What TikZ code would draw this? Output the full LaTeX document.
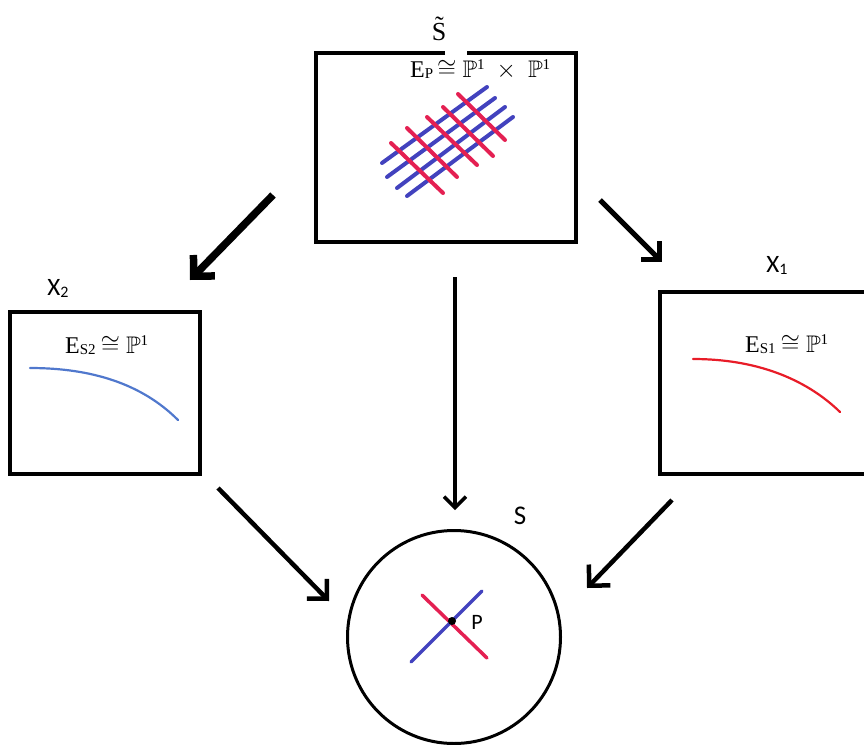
\documentclass[tikz,border=0pt]{standalone}
\usepackage{fontspec}
\usepackage{amssymb}
\setmainfont{Liberation Serif}
\newfontfamily\labelfont{Carlito}
\usetikzlibrary{arrows.meta}
\definecolor{gridred}{RGB}{228,32,82}
\definecolor{gridblue}{RGB}{66,66,190}
\definecolor{curveblue}{RGB}{80,120,205}
\definecolor{curvered}{RGB}{232,28,40}
\newcommand{\smallsub}[1]{\raisebox{-1.5pt}{\fontsize{15}{15}\selectfont #1}}
\newcommand{\smallsup}[1]{\raisebox{8pt}{\fontsize{15}{15}\selectfont #1}}
\begin{document}
\begin{tikzpicture}[x=1pt,y=-1pt,
  boxshape/.style={rectangle, inner sep=0pt, outer sep=0pt},
  frame/.style={boxshape, draw=black, line width=3.5pt},
  lbl/.style={font=\labelfont\fontsize{25}{30}\selectfont, inner sep=0pt},
  eq/.style={font=\fontsize{24}{28}\selectfont, inner sep=0pt, anchor=base west},
  gridline/.style={line width=4pt, line cap=round},
  mapto/.style={draw=black, line cap=butt}
]
\useasboundingbox (0,0) rectangle (864,744);
\clip (0,0) rectangle (864,744);

% ---------- top box S~ ----------
\node[boxshape, minimum width=260pt, minimum height=189pt] (top) at (446,147.5) {};
\coordinate (gapL) at (445,53);
\coordinate (gapR) at (467,53);
\draw[line width=4pt, line join=miter]
  (gapL |- top.north) -- (top.north west) -- (top.south west)
  -- (top.south east) -- (top.north east) -- (gapR |- top.north);
\node[font=\fontsize{26}{30}\selectfont, inner sep=0pt] (stilde) at (439,29) {\~{S}};
\node[eq] (ep) at (410,77) {E\smallsub{P}\hspace{4pt}$\cong$\hspace{6pt}$\mathbb{P}$\smallsup{1}\hspace{12pt}$\times$\hspace{12pt}$\mathbb{P}$\smallsup{1}};

% grid
\begin{scope}[gridline, draw=gridblue]
  \draw (382,163) -- (487,87);
  \draw (387,177) -- (495,98);
  \draw (397,188) -- (505,107);
  \draw (407,196) -- (513,117);
\end{scope}
\begin{scope}[gridline, draw=gridred]
  \draw (391,143) -- (443,193);
  \draw (407,128) -- (457,177);
  \draw (427,117) -- (477,165);
  \draw (443,107) -- (493,156);
  \draw (458,94) -- (505,140);
\end{scope}

% ---------- X2 box ----------
\node[frame, minimum width=190pt, minimum height=162pt] (xtwo) at (105,393) {};
\node[lbl] (xtwolbl) at (58,288) {X\raisebox{-2pt}{\fontsize{16}{16}\selectfont 2}};
\node[eq] (es2) at (65,353) {E\smallsub{S2}\hspace{5pt}$\cong$\hspace{6pt}$\mathbb{P}$\smallsup{1}};
\draw[curveblue, line width=2.2pt, line cap=round]
  (30,368) .. controls (92,368) and (142,384) .. (178,420);

% ---------- X1 box ----------
\node[frame, minimum width=210pt, minimum height=182pt] (xone) at (765,383) {};
\node[lbl] (xonelbl) at (777,265) {X\raisebox{-2pt}{\fontsize{16}{16}\selectfont 1}};
\node[eq] (es1) at (745,352) {E\smallsub{S1}\hspace{5pt}$\cong$\hspace{6pt}$\mathbb{P}$\smallsup{1}};
\draw[curvered, line width=2.2pt, line cap=round]
  (693,359) .. controls (755,359) and (805,378) .. (840,412);

% ---------- S circle ----------
\node[circle, draw=black, line width=3pt, minimum size=213pt, inner sep=0pt, outer sep=0pt] (S) at (454,637) {};
\node[lbl, font=\labelfont\fontsize{27}{32}\selectfont] (slbl) at (520,516) {S};
\draw[gridred, line width=3.5pt, line cap=round] (422,595) -- (487,658);
\draw[gridblue, line width=3.5pt, line cap=round] (411,662) -- (482,591);
\node[circle, fill=black, minimum size=8pt, inner sep=0pt] (p) at (452,621) {};
\node[lbl, font=\labelfont\fontsize{22}{26}\selectfont] (plbl) at (477,622) {P};

% ---------- arrows ----------
\coordinate (a1s) at (273,195); \coordinate (a1e) at (190,280);
\coordinate (a2s) at (600,200); \coordinate (a2e) at (662,262);
\coordinate (a3s) at (455,277); \coordinate (a3e) at (455,510);
\coordinate (a4s) at (218,488); \coordinate (a4e) at (329,601);
\coordinate (a5s) at (672,500); \coordinate (a5e) at (587,588);

\draw[mapto, line width=7.5pt, -{Straight Barb[length=15pt,width=30pt,line join=miter]}] (a1s) -- (a1e);
\draw[mapto, line width=5pt, -{Straight Barb[length=13pt,width=26pt,line join=miter]}] (a2s) -- (a2e);
\draw[mapto, line width=3.5pt, -{Straight Barb[length=11pt,width=22pt,line join=miter]}] (a3s) -- (a3e);
\draw[mapto, line width=4.5pt, -{Straight Barb[length=14pt,width=28pt,line join=miter]}] (a4s) -- (a4e);
\draw[mapto, line width=4.5pt, -{Straight Barb[length=15pt,width=30pt,line join=miter]}] (a5s) -- (a5e);
\end{tikzpicture}
\end{document}
